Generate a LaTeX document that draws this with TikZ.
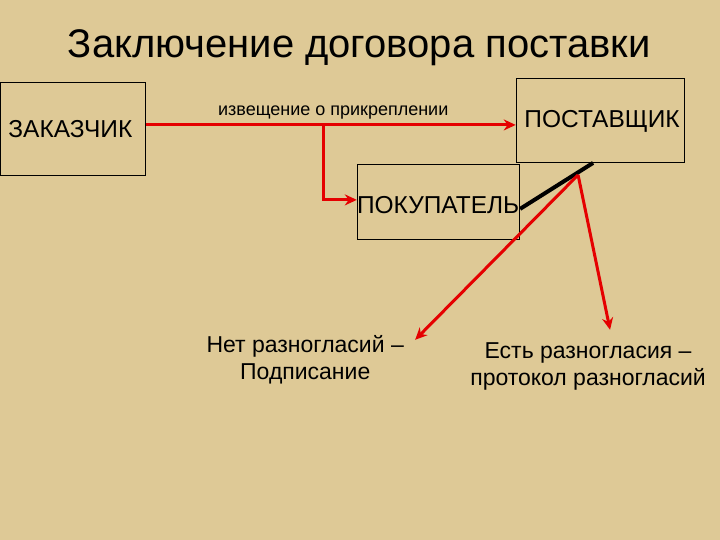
\documentclass[tikz,border=0pt]{standalone}
\usepackage{fontspec}
\usetikzlibrary{arrows.meta}
\setmainfont{Liberation Sans}
\begin{document}
\begin{tikzpicture}[x=1pt,y=-1pt,
 box/.style={draw=black,line width=0.8pt,inner sep=0pt},
 boxtxt/.style={font=\fontsize{24.5}{29}\selectfont},
 red arrow/.style={draw=red!90!black,line width=3pt,-{Stealth[length=12pt,width=11pt]}},
 lbl/.style={font=\fontsize{23}{27}\selectfont,align=center}]
\fill[fill={rgb,255:red,222;green,201;blue,150}] (0,0) rectangle (720,540);
\node[font=\fontsize{40}{46}\selectfont] (title) at (359,48) {Заключение договора поставки};
\node[box,minimum width=145pt,minimum height=93pt] (zak) at (72.5,128.5) {};
\node[boxtxt] (zakt) at (70,129) {ЗАКАЗЧИК};
\node[box,minimum width=168pt,minimum height=84pt] (post) at (600,120) {};
\node[boxtxt] (postt) at (602,121) {ПОСТАВЩИК};
\node[box,minimum width=162pt,minimum height=75pt] (pok) at (438,202) {};
\node[boxtxt] (pokt) at (438,205) {ПОКУПАТЕЛЬ};
\node[font=\fontsize{18}{21}\selectfont] (izv) at (333,113) {извещение о прикреплении};
\coordinate (br) at (323,125);
\coordinate (dn) at (323,200);
\coordinate (pk) at (578,175);
\draw[red arrow] (zak.east|-br) -- (post.west|-br);
\draw[red arrow] (br) -- (dn) -- (pok.west|-dn);
\draw[line width=4pt] (520,209) -- (593,163);
\node[lbl] (net) at (305,360) {Нет разногласий –\\Подписание};
\node[lbl] (est) at (588,367) {Есть разногласия –\\протокол разногласий};
\draw[red arrow] (pk) -- (415,340);
\draw[red arrow] (pk) -- (610,330);
\end{tikzpicture}
\end{document}
